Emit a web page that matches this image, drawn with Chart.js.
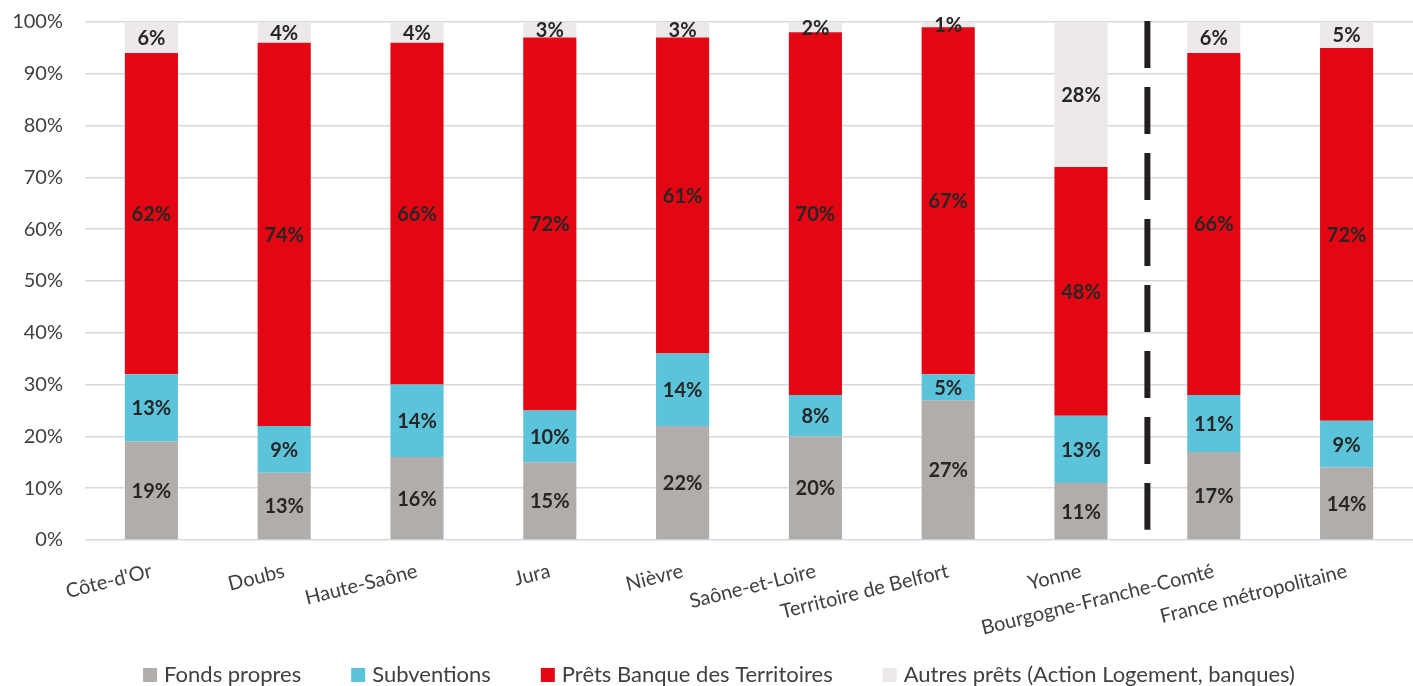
<!DOCTYPE html>
<html>
<head>
<meta charset="utf-8">
<script src="https://cdn.jsdelivr.net/npm/chart.js@4"></script>
<style>
html,body{margin:0;padding:0;background:#fff;}
#wrap{width:1413px;height:686px;position:relative;}
</style>
</head>
<body>
<div id="wrap"><canvas id="c" width="1413" height="686"></canvas></div>
<script>
const categories = ["Côte-d'Or","Doubs","Haute-Saône","Jura","Nièvre","Saône-et-Loire","Territoire de Belfort","Yonne","Bourgogne-Franche-Comté","France métropolitaine"];
const fondsPropres = [19,13,16,15,22,20,27,11,17,14];
const subventions = [13,9,14,10,14,8,5,13,11,9];
const pretsBanque = [62,74,66,72,61,70,67,48,66,72];
const autresPrets = [6,4,4,3,3,2,1,28,6,5];
const seriesNames = ["Fonds propres","Subventions","Prêts Banque des Territoires","Autres prêts (Action Logement, banques)"];
const yTicks = [0,10,20,30,40,50,60,70,80,90,100];
const separatorAfterIndex = 7;

const FONT = "Lato, 'Open Sans', sans-serif";
const colors = ["#B1ADAA","#5BC4DB","#E30613","#EDE9E8"];

const dataLabels = {
  id:'dataLabels',
  afterDatasetsDraw(chart){
    const ctx = chart.ctx;
    ctx.save();
    ctx.font = "bold 20px " + FONT;
    ctx.fillStyle = "#262626";
    ctx.textAlign = "center";
    ctx.textBaseline = "middle";
    chart.data.datasets.forEach((ds,i)=>{
      const meta = chart.getDatasetMeta(i);
      meta.data.forEach((el,j)=>{
        const v = ds.data[j];
        ctx.fillText(v + "%", el.x, (el.y + el.base)/2 + 1);
      });
    });
    ctx.restore();
  }
};

const separator = {
  id:'separator',
  afterDatasetsDraw(chart){
    const xs = chart.scales.x, ys = chart.scales.y;
    const x = (xs.getPixelForValue(separatorAfterIndex) + xs.getPixelForValue(separatorAfterIndex+1))/2;
    const ctx = chart.ctx;
    ctx.save();
    ctx.strokeStyle = "#231F20";
    ctx.lineWidth = 6;
    ctx.setLineDash([47,19]);
    ctx.beginPath();
    ctx.moveTo(x, ys.getPixelForValue(100) - 1);
    ctx.lineTo(x, ys.getPixelForValue(2));
    ctx.stroke();
    ctx.restore();
  }
};

const customLegend = {
  id:'customLegend',
  afterDraw(chart){
    const ctx = chart.ctx;
    ctx.save();
    ctx.font = "22px " + FONT;
    ctx.textBaseline = "middle";
    const box = 14, boxGap = 7, itemGap = 50;
    const items = chart.data.datasets.map(d=>({text:d.label, color:d.backgroundColor, w: box + boxGap + ctx.measureText(d.label).width}));
    const total = items.reduce((a,b)=>a+b.w,0) + itemGap*(items.length-1);
    let x = 719 - total/2;
    const y = 675;
    items.forEach(it=>{
      ctx.fillStyle = it.color;
      ctx.fillRect(x, y - box/2, box, box);
      ctx.fillStyle = "#404040";
      ctx.textAlign = "left";
      ctx.fillText(it.text, x + box + boxGap, y);
      x += it.w + itemGap;
    });
    ctx.restore();
  }
};

new Chart(document.getElementById('c'), {
  type:'bar',
  data:{
    labels: categories,
    datasets:[
      {label:seriesNames[0], data:fondsPropres, backgroundColor:colors[0]},
      {label:seriesNames[1], data:subventions, backgroundColor:colors[1]},
      {label:seriesNames[2], data:pretsBanque, backgroundColor:colors[2]},
      {label:seriesNames[3], data:autresPrets, backgroundColor:colors[3]}
    ]
  },
  options:{
    responsive:false,
    animation:false,
    layout:{padding:{top:22,right:0,bottom:46,left:0}},
    datasets:{bar:{barPercentage:0.4, categoryPercentage:1.0}},
    plugins:{legend:{display:false}, tooltip:{enabled:false}},
    scales:{
      x:{
        stacked:true,
        grid:{display:false, drawTicks:false},
        border:{display:false},
        ticks:{autoSkip:false, minRotation:14, maxRotation:14, padding:19, color:"#404040", font:{family:FONT, size:20}},
        afterFit(s){ s.height = 100; }
      },
      y:{
        stacked:true,
        min:0, max:100,
        afterBuildTicks(s){ s.ticks = yTicks.map(v=>({value:v})); },
        grid:{color:"#D9D9D9", lineWidth:1.5, drawTicks:true, tickLength:22, tickColor:"rgba(0,0,0,0)"},
        border:{display:false},
        ticks:{padding:0, color:"#404040", font:{family:FONT, size:20}, callback:v=>v+"%"},
        afterFit(s){ s.width = 85; }
      }
    }
  },
  plugins:[dataLabels, separator, customLegend]
});
</script>
</body>
</html>
